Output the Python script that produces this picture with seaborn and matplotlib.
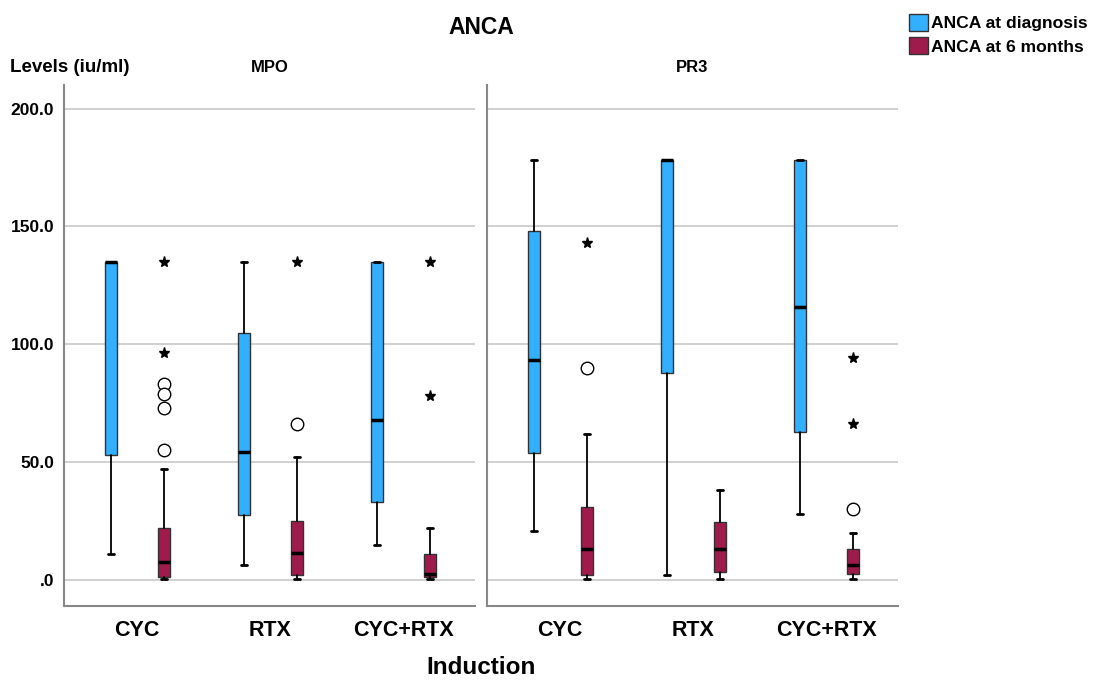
import matplotlib
matplotlib.use("Agg")
import matplotlib.pyplot as plt
import seaborn as sns
from matplotlib.patches import Patch

panels = ["MPO", "PR3"]
inductions = ["CYC", "RTX", "CYC+RTX"]
series = ["ANCA at diagnosis", "ANCA at 6 months"]

# box statistics per panel (rows) and induction (columns)
diag_whislo = [[11, 6.5, 15], [21, 2, 28]]
diag_q1 = [[53, 27.5, 33], [54, 88, 63]]
diag_med = [[135, 54.5, 68], [93.5, 178, 116]]
diag_q3 = [[135, 105, 135], [148, 178, 178]]
diag_whishi = [[135, 135, 135], [178, 178, 178]]
diag_circles = [[[], [], []], [[], [], []]]
diag_stars = [[[], [], []], [[], [], []]]

m6_whislo = [[0.5, 0.3, 0.3], [0.5, 0.5, 0.5]]
m6_q1 = [[1.5, 2, 1.2], [2, 3.5, 2.5]]
m6_med = [[7.5, 11.5, 2.5], [13, 13, 6.5]]
m6_q3 = [[22, 25, 11], [31, 24.5, 13]]
m6_whishi = [[47, 52, 22], [62, 38, 20]]
m6_circles = [[[83, 79, 73, 55], [66], []], [[90], [], [30]]]
m6_stars = [[[135, 96.5], [135], [135, 78]], [[143], [], [94, 66]]]

colors = ["#33AFFF", "#9E1B4B"]
offsets = [-0.2, 0.2]

sns.set_theme(style="white")
plt.rcParams["font.family"] = ["Liberation Sans", "DejaVu Sans"]
plt.rcParams["font.weight"] = "bold"
plt.rcParams["text.color"] = "black"
plt.rcParams["xtick.color"] = "black"
plt.rcParams["ytick.color"] = "black"

fig = plt.figure(figsize=(10.97, 6.81), dpi=100)
W, H = 1097, 681
axes = [fig.add_axes([64 / W, 75 / H, 411 / W, 521 / H]),
        fig.add_axes([487 / W, 75 / H, 411 / W, 521 / H])]

all_stats = [
    (diag_whislo, diag_q1, diag_med, diag_q3, diag_whishi, diag_circles, diag_stars),
    (m6_whislo, m6_q1, m6_med, m6_q3, m6_whishi, m6_circles, m6_stars),
]

for p, ax in enumerate(axes):
    for s, (wlo, q1, med, q3, whi, circ, star) in enumerate(all_stats):
        stats = []
        pos = []
        for i in range(len(inductions)):
            stats.append(dict(whislo=wlo[p][i], q1=q1[p][i], med=med[p][i],
                              q3=q3[p][i], whishi=whi[p][i], fliers=[]))
            pos.append(i + offsets[s])
        ax.bxp(stats, positions=pos, widths=0.09, patch_artist=True,
               showfliers=False, capwidths=0.045,
               boxprops=dict(facecolor=colors[s], edgecolor="#333333", linewidth=1),
               medianprops=dict(color="black", linewidth=2.5),
               whiskerprops=dict(color="black", linewidth=1.3),
               capprops=dict(color="black", linewidth=2),
               zorder=3)
        for i in range(len(inductions)):
            x = i + offsets[s]
            if circ[p][i]:
                ax.plot([x] * len(circ[p][i]), circ[p][i], "o", ms=9,
                        mfc="white", mec="black", mew=1, zorder=4)
            if star[p][i]:
                ax.plot([x] * len(star[p][i]), star[p][i], "*", ms=8,
                        color="black", zorder=4)

    ax.set_xlim(-0.55, 2.54)
    ax.set_ylim(-11, 210)
    ax.set_yticks([0, 50, 100, 150, 200])
    ax.set_xticks(range(len(inductions)))
    ax.set_xticklabels(inductions, fontsize=15.5, fontweight="bold")
    ax.yaxis.grid(True, color="#c8c8c8", linewidth=1.2)
    ax.set_axisbelow(True)
    ax.tick_params(length=0, pad=10)
    for side in ["top", "right"]:
        ax.spines[side].set_visible(False)
    for side in ["left", "bottom"]:
        ax.spines[side].set_color("#888888")
        ax.spines[side].set_linewidth(1.5)
    ax.text(0.5, 1.02, panels[p], transform=ax.transAxes, ha="center",
            va="bottom", fontsize=12, fontweight="bold")
    if p == 0:
        ax.set_yticklabels([".0", "50.0", "100.0", "150.0", "200.0"],
                           fontsize=12.5, fontweight="bold")
        ax.tick_params(axis="y", pad=7)
    else:
        ax.set_yticklabels([])

fig.text(10 / W, 1 - 67 / H, "Levels (iu/ml)", ha="left", va="center",
         fontsize=13.5, fontweight="bold")
fig.text(481 / W, 1 - 27 / H, "ANCA", ha="center", va="center",
         fontsize=16.5, fontweight="bold")
fig.text(481 / W, 1 - 668 / H, "Induction", ha="center", va="center",
         fontsize=17.5, fontweight="bold")

handles = [Patch(facecolor=c, edgecolor="#333333", label=l)
           for c, l in zip(colors, series)]
fig.legend(handles=handles, loc="upper left", bbox_to_anchor=(902 / W, 1 - 7 / H),
           frameon=False, prop=dict(weight="bold", size=12.6),
           handlelength=1.1, handleheight=1.1, handletextpad=0.15,
           labelspacing=0.35, borderaxespad=0)

fig.savefig("out.png", dpi=100)
